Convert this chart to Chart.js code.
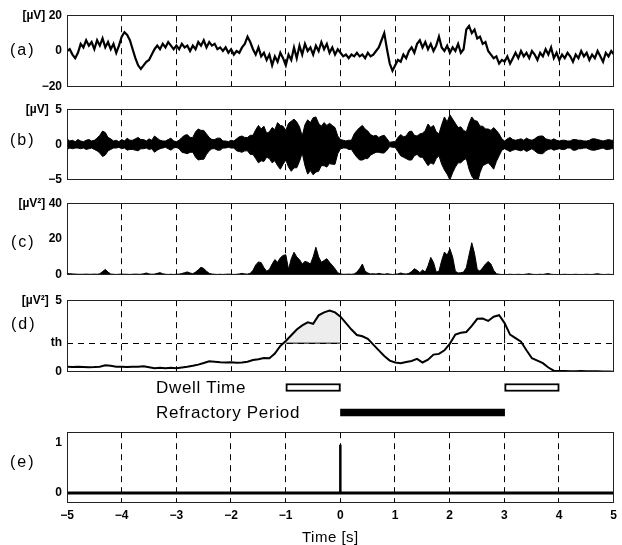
<!DOCTYPE html>
<html><head><meta charset="utf-8">
<script src="https://cdn.jsdelivr.net/npm/chart.js@4.4.0/dist/chart.umd.min.js"></script>
<style>
html,body{margin:0;padding:0;background:#fff;}
body{width:622px;height:545px;position:relative;overflow:hidden;font-family:"Liberation Sans",Arial,sans-serif;}
canvas{position:absolute;left:0;}
.lbl{position:absolute;color:#000;white-space:nowrap;line-height:1;transform:translateY(-50%);}
.pl{font-size:16px;letter-spacing:2px;}
.bl{font-size:17px;letter-spacing:0.7px;}
</style></head><body>
<canvas id="ca" width="622" height="96" style="top:3px"></canvas>
<canvas id="cb" width="622" height="95" style="top:97px"></canvas>
<canvas id="cc" width="622" height="96" style="top:191px"></canvas>
<canvas id="cd" width="622" height="96" style="top:288px"></canvas>
<canvas id="cbar" width="622" height="50" style="top:375px"></canvas>
<canvas id="ce" width="622" height="123" style="top:420px"></canvas>
<div class="lbl pl" style="left:10px;top:50px">(a)</div>
<div class="lbl pl" style="left:10px;top:140px">(b)</div>
<div class="lbl pl" style="left:11px;top:242px">(c)</div>
<div class="lbl pl" style="left:11px;top:324px">(d)</div>
<div class="lbl pl" style="left:10px;top:462px">(e)</div>
<div class="lbl bl" style="left:156px;top:387px">Dwell Time</div>
<div class="lbl bl" style="left:156px;top:412px">Refractory Period</div>
<div class="lbl" style="left:302px;top:536px;font-size:15px;letter-spacing:0.5px">Time [s]</div>
<script>
// ---------- data ----------
const timeStart = -5;
const xTickValues = [-5,-4,-3,-2,-1,0,1,2,3,4,5];

// (a) raw EEG [µV], sampled every 0.05 s
const aStep = 0.05;
const aValues = [
  0, 1, -2, -4, -1, 4, 2, 6, 3, 5, 1, 6, 3, 7, 2, 5, 1, 4, -1, 3,
  8, 10.5, 9, 6, 1, -4, -8, -10, -8, -6, -5, -2, 1, 3, 1, 4, 2, 5, 3, 1,
  3, 1, 4, 2, 3, 0, 3, 1, 5, 3, 6, 2, 5, 3, 4, 1, 2, 0, 2, -1,
  1, -2, 0, -1, 2, 4, 8, 5, 1, -2, 2, -3, -1, -5, -2, -8, -3, -6, -1, -4,
  -8, -2, -5, 2, -4, 3, -2, 4, 0, 2, -2, 3, 0, 5, 1, 4, -1, 2, -2, 1,
  -1, -3, -2, -4, -2, -3, -1, -3, -2, -4, -1, -3, -2, 0, 2, 6, 10, 1, -7, -11,
  -8, -5, -6, -2, -4, 0, 2, -1, 4, 6, 2, 5, 1, 4, 0, 3, 8, 2, 0, 3,
  -1, 2, 0, 4, -1, 1, 12, 14, 10, 12, 7, 8, 4, 5, 0, -2, -4, -3, -7, -5,
  -6, -3, -7, -4, -1, -4, 0, -3, -1, -4, 0, -2, -5, -1, -3, 1, -2, 2, -4, -1,
  -5, -2, -4, -1, -3, -6, -2, -4, 0, -3, -1, -5, -2, -4, 0, -3, -6, -1, -3, 0, -2
];

// (b) band-passed signal envelope [µV], every 0.05 s
const bStep = 0.05;
const bUpper = [
  0.8,0.5,0.6,0.4,0.7,0.5,0.4,0.6,0.7,0.5,0.6,0.9,1.3,1.9,1.7,1.0,0.8,0.5,0.6,0.4,
  0.7,0.5,0.9,0.6,0.6,0.8,1.0,0.7,0.7,0.5,0.8,0.6,1.2,0.9,0.6,0.5,0.5,0.7,0.9,0.5,
  0.4,0.6,1.0,1.3,1.4,1.0,1.0,1.8,2.2,2.0,2.0,1.5,1.0,0.7,0.7,0.9,0.9,0.5,0.5,0.4,
  0.6,0.5,0.8,1.1,1.2,1.0,1.0,1.3,1.3,2.1,2.7,2.2,2.6,1.6,1.8,2.4,2.1,3.1,2.7,2.6,
  2.0,3.0,3.3,3.6,3.2,2.5,1.2,2.8,3.5,3.1,3.8,3.9,3.0,2.6,3.1,2.7,3.0,2.7,2.4,1.2,
  0.7,0.6,0.5,0.6,0.6,1.5,2.0,2.4,2.7,2.2,1.9,1.4,1.2,1.3,1.0,1.2,1.3,0.8,0.3,0.4,
  0.4,1.0,1.4,1.1,1.2,1.8,1.9,1.3,1.2,1.5,1.6,2.0,2.9,2.4,2.7,1.8,1.5,2.8,3.9,3.2,
  4.2,3.6,3.0,2.4,2.5,2.0,1.8,3.0,3.9,3.4,3.3,2.6,2.6,2.2,2.2,2.0,2.4,2.0,1.5,0.8,
  0.5,0.8,1.0,0.7,0.6,0.7,0.8,0.6,0.9,0.7,0.6,0.8,1.1,1.2,1.2,0.8,0.7,0.6,0.8,0.6,
  0.5,0.6,0.6,0.5,0.5,0.7,0.7,0.6,0.6,0.5,0.5,0.6,0.8,0.8,0.7,0.6,0.5,0.6,0.7,0.6,0.6
];
const bLower = [
  -0.7,-0.5,-0.6,-0.5,-0.5,-0.6,-0.5,-0.7,-0.6,-0.5,-0.7,-0.9,-1.2,-1.7,-1.5,-0.9,-0.7,-0.5,-0.5,-0.4,
  -0.6,-0.5,-0.8,-0.7,-0.7,-0.8,-0.9,-0.6,-0.6,-0.5,-0.7,-0.6,-1.1,-0.8,-0.6,-0.5,-0.4,-0.6,-0.8,-0.5,
  -0.4,-0.6,-1.1,-1.2,-1.3,-1.1,-1.1,-1.8,-2.2,-2.1,-2.1,-1.4,-0.9,-0.6,-0.6,-0.8,-0.8,-0.5,-0.5,-0.4,
  -0.5,-0.5,-0.9,-1.0,-1.1,-0.9,-0.9,-1.4,-1.4,-2.0,-2.6,-2.3,-2.4,-1.8,-2.0,-2.6,-2.3,-3.0,-3.5,-2.8,
  -2.2,-3.2,-3.8,-3.3,-3.3,-2.4,-1.2,-3.0,-4.2,-3.7,-4.3,-3.9,-3.8,-3.0,-3.0,-3.2,-2.7,-2.8,-2.8,-1.3,
  -0.6,-0.5,-0.5,-0.7,-0.7,-1.3,-1.8,-2.2,-2.2,-2.0,-2.0,-1.5,-1.3,-1.1,-1.1,-1.2,-1.2,-0.8,-0.3,-0.4,
  -0.4,-1.0,-1.6,-1.8,-2.0,-2.2,-2.2,-1.6,-1.4,-1.8,-1.8,-2.4,-3.0,-2.6,-2.8,-2.0,-1.6,-2.8,-3.6,-4.2,
  -5.0,-4.0,-3.2,-2.6,-2.6,-2.2,-2.0,-3.5,-4.5,-5.0,-5.5,-4.0,-3.0,-2.8,-2.6,-3.0,-3.5,-2.4,-1.6,-0.8,
  -0.6,-0.8,-1.0,-0.8,-0.7,-0.8,-0.9,-0.7,-1.0,-0.8,-0.6,-0.9,-1.2,-1.3,-1.3,-0.9,-0.7,-0.6,-0.8,-0.7,
  -0.6,-0.7,-0.7,-0.5,-0.5,-0.8,-0.8,-0.6,-0.6,-0.5,-0.5,-0.7,-0.8,-0.8,-0.7,-0.6,-0.5,-0.7,-0.7,-0.6,-0.6
];

// (c) power [µV²], every 0.05 s
const cStep = 0.05;
const cValues = [
  0.8, 0.6, 0.5, 0.4, 0.3, 0.3, 0.3, 0.4, 0.3, 0.3, 0.4, 0.3, 0.6, 1.8, 3.0, 1.5, 0.4, 0.3, 0.2, 0.3,
  0.4, 0.3, 0.3, 0.2, 0.3, 0.4, 0.3, 0.3, 0.6, 1.0, 0.5, 0.3, 0.4, 0.8, 1.2, 0.6, 0.3, 0.2, 0.3, 0.2,
  0.3, 0.4, 0.7, 1.2, 1.6, 1.0, 0.6, 1.5, 2.8, 4.2, 3.5, 2.0, 0.8, 0.4, 0.3, 0.2, 0.3, 0.2, 0.3, 0.4,
  0.3, 0.2, 0.3, 0.5, 0.8, 0.5, 0.4, 0.8, 2.5, 5.5, 7.2, 6.8, 4.0, 2.0, 3.0, 6.0, 8.5, 7.0, 9.5, 10.8,
  11.2, 3.0, 9.0, 12.6, 10.0, 8.5, 6.0, 7.5, 7.0, 6.0, 10.0, 15.4, 10.0, 7.0, 8.0, 9.0, 7.0, 5.3, 3.4, 1.2,
  0.5, 0.3, 0.3, 0.4, 0.3, 0.5, 1.5, 3.5, 6.0, 2.0, 1.0, 0.5, 0.6, 0.4, 0.8, 0.5, 0.3, 0.6, 0.4, 0.2,
  0.3, 0.5, 1.0, 0.6, 0.4, 0.8, 1.8, 3.4, 2.5, 1.2, 2.7, 1.5, 5.0, 9.7, 7.0, 1.5, 2.0, 8.0, 12.7, 11.0,
  14.5, 10.0, 2.0, 1.0, 1.2, 1.5, 4.0, 11.0, 17.9, 12.0, 3.0, 2.0, 4.0, 6.0, 7.4, 6.0, 2.5, 0.6, 0.3, 0.2,
  0.2, 0.2, 0.3, 0.2, 0.2, 0.3, 0.2, 0.2, 0.4, 0.6, 0.3, 0.2, 0.2, 0.3, 0.2, 0.5, 0.7, 0.3, 0.2, 0.2,
  0.2, 0.2, 0.3, 0.2, 0.2, 0.2, 0.3, 0.2, 0.2, 0.2, 0.3, 0.2, 0.2, 0.4, 0.6, 0.3, 0.2, 0.2, 0.3, 0.2, 0.2
];

// (d) smoothed power [µV²], every 0.1 s
const dStep = 0.1;
const dValues = [
  0.35, 0.33, 0.35, 0.34, 0.32, 0.33, 0.36, 0.45, 0.42, 0.36,
  0.35, 0.34, 0.36, 0.35, 0.38, 0.32, 0.25, 0.28, 0.24, 0.28,
  0.25, 0.30, 0.35, 0.42, 0.50, 0.62, 0.74, 0.70, 0.66, 0.65,
  0.66, 0.64, 0.65, 0.70, 0.82, 0.88, 0.97, 0.95, 1.27, 1.80,
  2.15, 2.55, 2.95, 3.24, 3.45, 3.35, 3.94, 4.15, 4.28, 4.15,
  3.85, 3.40, 2.95, 2.57, 2.48, 2.30, 1.90, 1.50, 1.10, 0.78,
  0.65, 0.60, 0.68, 0.76, 0.90, 0.65, 0.85, 1.20, 1.25, 1.50,
  1.97, 2.60, 2.72, 2.78, 3.20, 3.70, 3.72, 3.55, 3.85, 3.95,
  3.40, 2.60, 2.35, 2.10, 1.50, 0.95, 0.78, 0.60, 0.30, 0.08,
  0.05, 0.05, 0.04, 0.04, 0.05, 0.04, 0.03, 0.03, 0.02, 0.02, 0.01
];
const dThreshold = 2;

// dwell time / refractory period intervals [s]
const dwellStarts = [-1, 3];
const dwellEnds = [0, 4];
const refractoryStarts = [0];
const refractoryEnds = [3];

// (e) detection output
const eBaseTimes = [-5, 5];
const eBaseValues = [0, 0];
const eDetectTimes = [0];
const eDetectHeights = [0.95];

// tick values
const yTicksA = [-20, 0, 20];
const yTicksB = [-5, 0, 5];
const yTicksC = [0, 20, 40];
const yTicksD = [0, dThreshold, 5];
const yTicksE = [0, 1];

// ---------- helpers ----------
Chart.defaults.font.family = '"Liberation Sans", Arial, sans-serif';
function toXY(step, vals){ return vals.map((v,i)=>({x: +(timeStart + i*step).toFixed(3), y: v})); }
function minus(v){ return v < 0 ? '\u2212' + Math.abs(v) : String(v); }
function dAt(t){ const i = Math.round((t - timeStart)/dStep); return dValues[i]; }

const framePlugin = { id:'frame', afterDatasetsDraw(chart){
  const {ctx, chartArea:a} = chart;
  ctx.save(); ctx.setLineDash([]); ctx.strokeStyle = '#222'; ctx.lineWidth = 1;
  ctx.strokeRect(Math.round(a.left)+0.5, Math.round(a.top)+0.5, Math.round(a.right-a.left)-1, Math.round(a.bottom-a.top)-1);
  ctx.restore();
}};

const xEdge = [xTickValues[0], xTickValues[xTickValues.length-1]];
function panelOptions(o){
  return {
    responsive:false, animation:false, devicePixelRatio:1,
    layout:{padding:{top:12, right:8, left:0, bottom:0}},
    plugins:{legend:{display:false}, tooltip:{enabled:false}},
    elements:{point:{radius:0}, line:{tension:0}},
    scales:{
      x:{type:'linear', min:-5, max:5,
        afterBuildTicks: s => { s.ticks = xTickValues.map(v=>({value:v})); },
        afterFit: s => { s.height = o.xHeight; },
        grid:{lineWidth:1, drawTicks:false,
              color: c => (c.tick && xEdge.includes(c.tick.value)) ? 'rgba(0,0,0,0)' : '#000'},
        border:{display:false, dash:[6,5]},
        ticks:{display:o.showX, padding:5, maxRotation:0, autoSkip:false, color:'#000', font:{size:12, weight:'bold'}, callback: v => minus(v)}
      },
      y:{type:'linear', min:o.yMin, max:o.yMax,
        afterBuildTicks: s => { s.ticks = o.yTicks.map(v=>({value:v})); },
        afterFit: s => { s.width = 67; },
        grid:{display: o.yGrid !== undefined, drawTicks:false, lineWidth:1,
              color: c => (c.tick && c.tick.value === o.yGrid) ? '#000' : 'rgba(0,0,0,0)'},
        border:{display:false, dash:[6,5]},
        ticks:{padding:5, autoSkip:false, color:'#000', font:{size:12, weight:'bold'}, callback: o.yLabel}
      }
    }
  };
}

// (a)
new Chart(document.getElementById('ca'), {
  type:'line',
  data:{datasets:[{data:toXY(aStep, aValues), borderColor:'#000', borderWidth:2.2, pointRadius:0}]},
  options:panelOptions({yMin:-20, yMax:20, yTicks:yTicksA, xHeight:12, showX:false,
    yLabel: v => v === 20 ? '[\u00b5V] 20' : minus(v)}),
  plugins:[framePlugin]
});

// (b)
new Chart(document.getElementById('cb'), {
  type:'line',
  data:{datasets:[
    {data:toXY(bStep, bUpper), borderColor:'#000', borderWidth:1, backgroundColor:'#000', fill:'+1', pointRadius:0},
    {data:toXY(bStep, bLower), borderColor:'#000', borderWidth:1, pointRadius:0, fill:false}
  ]},
  options:panelOptions({yMin:-5, yMax:5, yTicks:yTicksB, xHeight:12, showX:false,
    yLabel: v => v === 5 ? '[\u00b5V]  5' : minus(v)}),
  plugins:[framePlugin]
});

// (c)
new Chart(document.getElementById('cc'), {
  type:'line',
  data:{datasets:[{data:toXY(cStep, cValues), borderColor:'#000', borderWidth:1, backgroundColor:'#000', fill:'origin', pointRadius:0}]},
  options:panelOptions({yMin:0, yMax:40, yTicks:yTicksC, xHeight:12, showX:false,
    yLabel: v => v === 40 ? '[\u00b5V\u00b2] 40' : minus(v)}),
  plugins:[framePlugin]
});

// (d)
const dXY = toXY(dStep, dValues);
const dDwell = dXY.filter(p => p.x >= dwellStarts[0] - 1e-6 && p.x <= dwellEnds[0] + 1e-6);
new Chart(document.getElementById('cd'), {
  type:'line',
  data:{datasets:[
    {data:dDwell, borderWidth:0, borderColor:'rgba(0,0,0,0)', backgroundColor:'rgba(0,0,0,0.07)', fill:{value:dThreshold}, pointRadius:0},
    {data:[{x:dwellStarts[0], y:dThreshold},{x:dwellEnds[0], y:dThreshold},{x:dwellEnds[0], y:dAt(dwellEnds[0])}],
     borderColor:'#000', borderWidth:1, pointRadius:0, fill:false},
    {data:[{x:dwellStarts[1], y:dThreshold},{x:dwellStarts[1], y:dAt(dwellStarts[1])}],
     borderColor:'#000', borderWidth:1, pointRadius:0, fill:false},
    {data:dXY, borderColor:'#000', borderWidth:2, pointRadius:0, fill:false}
  ]},
  options:panelOptions({yMin:0, yMax:5, yTicks:yTicksD, xHeight:12, showX:false, yGrid:dThreshold,
    yLabel: v => v === 5 ? '[\u00b5V\u00b2]  5' : (v === dThreshold ? 'th' : minus(v))}),
  plugins:[framePlugin]
});

// dwell / refractory bars
const barDatasets = dwellStarts.map((s,i)=>({
  data:[[s, dwellEnds[i]], null], backgroundColor:'#fff', borderColor:'#000', borderWidth:2,
  borderSkipped:false, barThickness:8, grouped:false
})).concat(refractoryStarts.map((s,i)=>({
  data:[null, [s, refractoryEnds[i]]], backgroundColor:'#000', borderColor:'#000', borderWidth:0,
  borderSkipped:false, barThickness:7, grouped:false
})));
new Chart(document.getElementById('cbar'), {
  type:'bar',
  data:{labels:['Dwell Time','Refractory Period'], datasets:barDatasets},
  options:{responsive:false, animation:false, devicePixelRatio:1, indexAxis:'y',
    layout:{padding:{left:67, right:8, top:0, bottom:0}},
    plugins:{legend:{display:false}, tooltip:{enabled:false}},
    scales:{x:{type:'linear', min:-5, max:5, display:false}, y:{display:false, offset:true}}}
});

// (e)
new Chart(document.getElementById('ce'), {
  type:'line',
  data:{datasets:[
    {data:eBaseTimes.map((t,i)=>({x:t, y:eBaseValues[i]})), borderColor:'#000', borderWidth:3, pointRadius:0, fill:false},
    ...eDetectTimes.map((t,i)=>({data:[{x:t, y:0},{x:t, y:eDetectHeights[i]}], borderColor:'#000', borderWidth:2.5, pointRadius:0, fill:false}))
  ]},
  options:panelOptions({yMin:-0.2, yMax:1.2, yTicks:yTicksE, xHeight:40, showX:true,
    yLabel: v => minus(v)}),
  plugins:[framePlugin]
});
</script>
</body></html>
